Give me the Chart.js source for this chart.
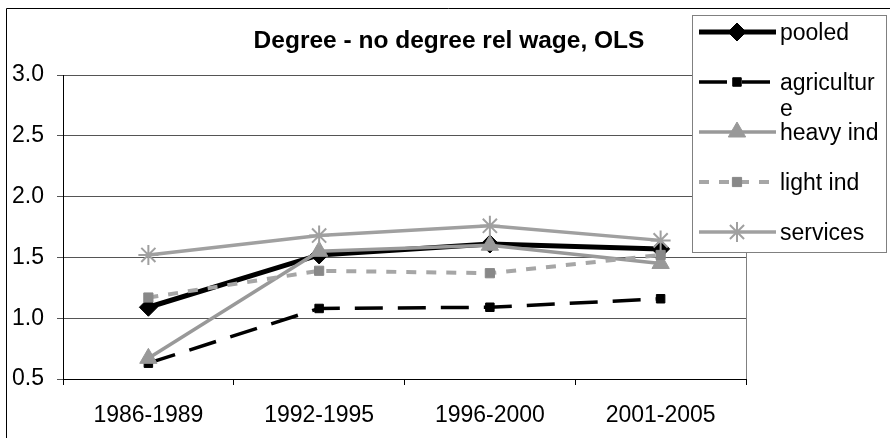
<!DOCTYPE html>
<html><head><meta charset="utf-8">
<script src="https://cdn.jsdelivr.net/npm/chart.js@4/dist/chart.umd.min.js"></script>
<style>html,body{margin:0;padding:0;background:#fff;}#wrap{width:892px;height:438px;position:relative;}</style>
</head><body><div id="wrap"><canvas id="c" width="892" height="438"></canvas></div>
<script>
const categories = ['1986-1989', '1992-1995', '1996-2000', '2001-2005'];
const seriesNames = ['pooled', 'agriculture', 'heavy ind', 'light ind', 'services'];
const pooled = [1.09, 1.52, 1.61, 1.57];
const agriculture = [0.63, 1.08, 1.09, 1.16];
const heavyInd = [0.67, 1.55, 1.60, 1.45];
const lightInd = [1.17, 1.39, 1.37, 1.52];
const services = [1.52, 1.68, 1.76, 1.64];
const yTicks = [0.5, 1.0, 1.5, 2.0, 2.5, 3.0];
const titleText = 'Degree - no degree rel wage, OLS';

const FONT = "'Liberation Sans', Arial, sans-serif";

function fallbackDrawPoint(ctx, o, x, y) {
  const r = o.radius;
  ctx.beginPath();
  if (o.pointStyle === 'rectRot') {
    ctx.moveTo(x, y - r); ctx.lineTo(x + r, y); ctx.lineTo(x, y + r); ctx.lineTo(x - r, y); ctx.closePath(); ctx.fill(); ctx.stroke();
  } else if (o.pointStyle === 'rect') {
    const s = r * Math.SQRT1_2; ctx.rect(x - s, y - s, 2 * s, 2 * s); ctx.fill(); ctx.stroke();
  } else if (o.pointStyle === 'triangle') {
    ctx.moveTo(x, y - r); ctx.lineTo(x + r * 0.866, y + r / 2); ctx.lineTo(x - r * 0.866, y + r / 2); ctx.closePath(); ctx.fill(); ctx.stroke();
  } else {
    for (let k = 0; k < 4; k++) { const a = k * Math.PI / 4; ctx.moveTo(x - r * Math.cos(a), y - r * Math.sin(a)); ctx.lineTo(x + r * Math.cos(a), y + r * Math.sin(a)); }
    ctx.stroke();
  }
}

function wrapText(ctx, text, maxW) {
  const lines = []; let cur = '';
  for (const ch of text) {
    if (ctx.measureText(cur + ch).width > maxW && cur.length) { lines.push(cur); cur = ch; }
    else cur += ch;
  }
  if (cur) lines.push(cur);
  return lines;
}

const deco = {
  id: 'deco',
  beforeDraw(chart) {
    const ctx = chart.ctx;
    ctx.save();
    ctx.fillStyle = '#fff'; ctx.fillRect(0, 0, chart.width, chart.height);
    ctx.strokeStyle = '#000'; ctx.lineWidth = 1;
    ctx.beginPath();
    ctx.moveTo(6.5, 438); ctx.lineTo(6.5, 8.5); ctx.lineTo(890, 8.5);
    ctx.stroke();
    ctx.restore();
  },
  beforeDatasetsDraw(chart) {
    const ctx = chart.ctx, a = chart.chartArea;
    ctx.save();
    ctx.strokeStyle = '#808080'; ctx.lineWidth = 1;
    ctx.beginPath();
    ctx.moveTo(Math.round(a.right) + 0.5, a.top); ctx.lineTo(Math.round(a.right) + 0.5, a.bottom);
    ctx.stroke();
    ctx.restore();
  },
  afterDraw(chart) {
    const ctx = chart.ctx;
    ctx.save();
    ctx.fillStyle = '#000';
    ctx.font = 'bold 24.5px ' + FONT;
    ctx.textAlign = 'center'; ctx.textBaseline = 'alphabetic';
    ctx.fillText(titleText, 449, 48);
    ctx.fillStyle = '#fff'; ctx.strokeStyle = '#808080'; ctx.lineWidth = 1;
    ctx.fillRect(692, 15, 194, 237);
    ctx.strokeRect(692.5, 15.5, 194, 237);
    const drawPoint = (Chart.helpers && Chart.helpers.drawPoint) ? Chart.helpers.drawPoint : fallbackDrawPoint;
    chart.data.datasets.forEach((ds, i) => {
      const ly = 32 + i * 50;
      ctx.save();
      ctx.strokeStyle = ds.borderColor; ctx.lineWidth = ds.borderWidth;
      ctx.setLineDash(ds.borderDash || []);
      ctx.beginPath(); ctx.moveTo(699, ly); ctx.lineTo(776, ly); ctx.stroke();
      ctx.setLineDash([]);
      ctx.fillStyle = ds.pointBackgroundColor; ctx.strokeStyle = ds.pointBorderColor; ctx.lineWidth = ds.pointBorderWidth;
      drawPoint(ctx, { pointStyle: ds.pointStyle, radius: ds.pointRadius, rotation: 0, borderWidth: ds.pointBorderWidth }, 737, ly);
      ctx.restore();
      ctx.fillStyle = '#000'; ctx.font = '23px ' + FONT; ctx.textAlign = 'left'; ctx.textBaseline = 'alphabetic';
      const lines = wrapText(ctx, ds.label, 104);
      lines.forEach((t, k) => ctx.fillText(t, 780, ly + 8 + k * 26));
    });
    ctx.restore();
  }
};

const mk = (label, data, o) => Object.assign({ label, data, tension: 0, fill: false, pointHoverRadius: o.pointRadius }, o);

new Chart(document.getElementById('c').getContext('2d'), {
  type: 'line',
  data: {
    labels: categories,
    datasets: [
      mk(seriesNames[0], pooled, { borderColor: '#000', borderWidth: 5, pointStyle: 'rectRot', pointRadius: 9, pointBackgroundColor: '#000', pointBorderColor: '#000', pointBorderWidth: 1, order: 5 }),
      mk(seriesNames[1], agriculture, { borderColor: '#000', borderWidth: 3.5, borderDash: [28, 15], pointStyle: 'rect', pointRadius: 6, pointBackgroundColor: '#000', pointBorderColor: '#000', pointBorderWidth: 1, order: 4 }),
      mk(seriesNames[2], heavyInd, { borderColor: '#999999', borderWidth: 3.5, pointStyle: 'triangle', pointRadius: 10, pointBackgroundColor: '#999999', pointBorderColor: '#999999', pointBorderWidth: 1, order: 3 }),
      mk(seriesNames[3], lightInd, { borderColor: '#a6a6a6', borderWidth: 4, borderDash: [10, 10], pointStyle: 'rect', pointRadius: 6.5, pointBackgroundColor: '#888888', pointBorderColor: '#888888', pointBorderWidth: 1, order: 2 }),
      mk(seriesNames[4], services, { borderColor: '#a0a0a0', borderWidth: 3.5, pointStyle: 'star', pointRadius: 10, pointBackgroundColor: '#a0a0a0', pointBorderColor: '#a0a0a0', pointBorderWidth: 2, order: 1 })
    ]
  },
  options: {
    responsive: false, animation: false, devicePixelRatio: 1,
    layout: { padding: { left: 6, right: 146, top: 75, bottom: 0 } },
    plugins: { legend: { display: false }, title: { display: false }, tooltip: { enabled: false } },
    scales: {
      x: {
        offset: true,
        grid: { offset: true, drawOnChartArea: false, drawTicks: true, tickLength: 6, color: '#000' },
        border: { color: '#000', width: 1 },
        ticks: { color: '#000', font: { family: FONT, size: 23 }, padding: 17, maxRotation: 0, autoSkip: false },
        afterFit(s) { s.height = 59; }
      },
      y: {
        min: 0.5, max: 3.0,
        afterBuildTicks(s) { s.ticks = yTicks.map(v => ({ value: v })); },
        grid: { color: '#555', tickLength: 6, lineWidth: 1 },
        border: { color: '#000', width: 1 },
        ticks: { color: '#000', font: { family: FONT, size: 23 }, padding: 13, callback: v => Number(v).toFixed(1) },
        afterFit(s) { s.width = 57; }
      }
    }
  },
  plugins: [deco]
});
</script></body></html>
